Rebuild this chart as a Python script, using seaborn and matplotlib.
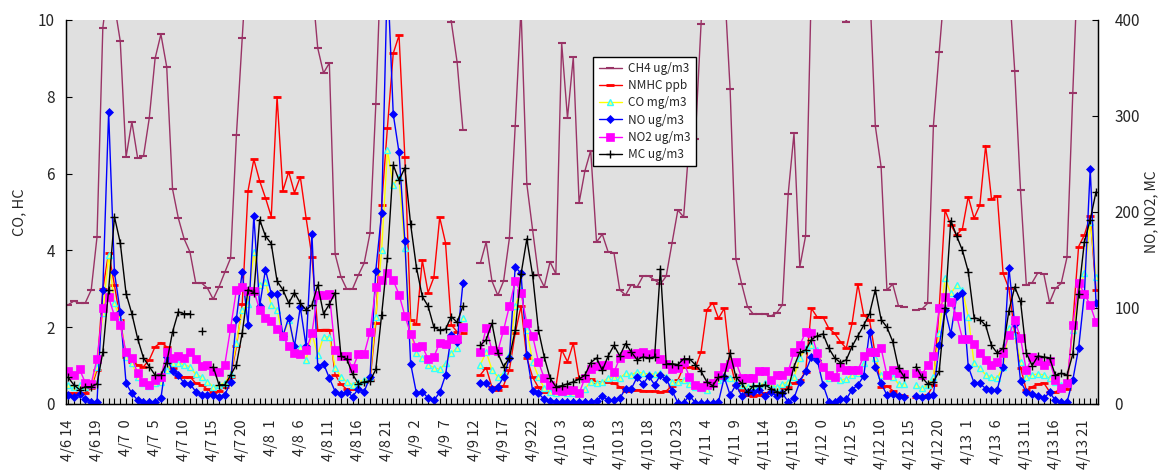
import numpy as np
import pandas as pd
import matplotlib
matplotlib.use('Agg')
import matplotlib.pyplot as plt
import seaborn as sns
from matplotlib.lines import Line2D
from matplotlib.ticker import MultipleLocator

nan = np.nan

# x 軸ラベル (5時間ごと)
tick_labels = ["4/6 14", "4/6 19", "4/7  0", "4/7  5", "4/7 10", "4/7 15", "4/7 20",
               "4/8  1", "4/8  6", "4/8 11", "4/8 16", "4/8 21", "4/9  2", "4/9  7",
               "4/9 12", "4/9 17", "4/9 22", "4/10  3", "4/10  8", "4/10 13", "4/10 18",
               "4/10 23", "4/11  4", "4/11  9", "4/11 14", "4/11 19", "4/12  0", "4/12  5",
               "4/12 10", "4/12 15", "4/12 20", "4/13  1", "4/13  6", "4/13 11", "4/13 16",
               "4/13 21"]

# 左軸 (CO, HC)
ch4 = [2.58, 2.68, 2.63, 2.64, 2.97, 4.35, 9.8, 11.0, 10.4, 9.45,
       6.43, 7.35, 6.4, 6.45, 7.45, 9.0, 9.63, 8.78, 5.6, 4.84,
       4.3, 3.96, 3.15, 3.15, 3.02, 2.73, 3.05, 3.43, 3.8, 7.0,
       9.53, 12, 13, 13, 13, 13, 13, 13, 13, 13,
       13, 13, 11, 9.27, 8.62, 8.88, 3.9, 3.31, 2.99, 3.0,
       3.36, 3.67, 4.45, 7.8, 12, 13, 13, 13, 13, 13,
       13, 13, 13, 13, 13, 11, 9.95, 8.9, 7.13, nan,
       nan, 3.67, 4.22, 3.2, 2.83, 3.2, 4.32, 7.24, 10.3, 5.73,
       4.53, 3.36, 3.05, 3.7, 3.39, 9.4, 7.45, 9.03, 5.24, 6.07,
       6.6, 4.22, 4.42, 3.96, 3.94, 2.97, 2.84, 3.1, 3.05, 3.33,
       3.33, 3.23, 3.12, 3.33, 4.19, 5.05, 4.87, 6.88, 6.9, 9.9,
       13, 13, 13, 11, 8.2, 3.77, 3.12, 2.53, 2.34, 2.34,
       2.34, 2.29, 2.37, 2.58, 5.47, 7.05, 3.57, 4.38, 11, 13,
       13, 13, 12, 11, 9.95, 11, 13, 13, 11, 7.24,
       6.17, 2.97, 3.12, 2.55, 2.53, nan, 2.45, 2.47, 2.62, 7.24,
       9.17, 11, 13, 13, 13, 13, 13, 13, 13, 13,
       13, 13, 11, 8.68, 5.57, 3.1, 3.16, 3.42, 3.39, 2.64,
       3.01, 3.14, 3.82, 8.1, 12, 13, 13, 13]

nmhc = [0.29, 0.28, 0.26, 0.29, 0.41, 0.89, 2.99, 3.94, 3.1, 2.19,
        1.23, 1.1, 1.02, 0.97, 1.15, 1.49, 1.6, 1.49, 0.93, 0.71,
        0.71, 0.71, 0.54, 0.5, 0.38, 0.32, 0.35, 0.45, 0.7, 1.5,
        2.6, 5.55, 6.37, 5.81, 5.37, 4.88, 8.0, 5.55, 6.05, 5.5,
        5.92, 4.84, 3.84, 1.93, 1.94, 1.94, 0.76, 0.52, 0.38, 0.38,
        0.54, 0.58, 0.62, 2.1, 5.18, 7.2, 9.13, 9.6, 6.42, 2.2,
        2.08, 3.75, 2.9, 3.3, 4.86, 4.2, 2.06, 1.88, 1.86, nan,
        nan, 0.76, 0.95, 0.43, 0.36, 0.48, 0.89, 1.85, 2.55, 1.2,
        0.7, 0.43, 0.3, 0.3, 0.45, 1.41, 1.1, 1.58, 0.67, 0.72,
        0.65, 0.58, 0.58, 0.58, 0.54, 0.45, 0.34, 0.36, 0.36, 0.35,
        0.34, 0.33, 0.32, 0.34, 0.47, 0.62, 0.97, 0.97, 0.93, 1.36,
        2.45, 2.64, 2.23, 2.49, 1.1, 0.49, 0.36, 0.23, 0.22, 0.23,
        0.28, 0.32, 0.38, 0.42, 0.45, 0.55, 0.62, 0.84, 2.49, 2.26,
        2.26, 1.97, 1.84, 1.62, 1.45, 2.1, 3.12, 2.32, 2.19, 1.28,
        0.45, 0.47, 0.35, 0.23, 0.22, nan, 0.19, 0.19, 0.23, 0.49,
        2.5, 5.05, 4.66, 4.4, 4.57, 5.4, 4.84, 5.18, 6.73, 5.34,
        5.42, 3.4, 3.01, 1.85, 0.95, 0.36, 0.45, 0.52, 0.55, 0.32,
        0.32, 0.38, 0.4, 2.1, 4.1, 4.4, 4.9, 2.97]

co = [0.49, 0.45, 0.49, 0.45, 0.49, 0.97, 2.36, 3.88, 2.62, 2.19,
      1.23, 1.06, 0.71, 0.54, 0.47, 0.54, 0.58, 0.89, 1.06, 1.08,
      1.02, 0.97, 0.77, 0.71, 0.58, 0.45, 0.49, 0.55, 0.78, 1.58,
      2.45, 2.6, 3.97, 3.1, 3.18, 2.58, 2.45, 1.75, 2.19, 1.49,
      1.49, 1.15, 1.84, 1.28, 1.75, 1.75, 0.95, 0.71, 0.58, 0.5,
      0.58, 0.62, 0.71, 2.27, 4.0, 6.61, 5.7, 5.92, 4.05, 1.86,
      1.32, 1.19, 1.02, 0.95, 0.9, 1.06, 1.32, 1.47, 2.23, nan,
      nan, 1.02, 1.36, 0.89, 0.71, 0.8, 1.28, 2.55, 2.97, 1.93,
      1.1, 0.71, 0.41, 0.32, 0.28, 0.32, 0.29, 0.28, 0.29, 0.4,
      0.58, 0.55, 0.58, 0.67, 0.71, 0.67, 0.8, 0.76, 0.84, 0.8,
      0.78, 0.78, 0.82, 0.71, 0.58, 0.58, 0.62, 0.52, 0.45, 0.41,
      0.36, 0.54, 0.62, 0.71, 0.67, 0.58, 0.49, 0.45, 0.47, 0.49,
      0.54, 0.52, 0.45, 0.52, 0.58, 0.71, 1.19, 1.45, 1.54, 1.41,
      0.97, 0.67, 0.71, 0.62, 0.66, 0.76, 0.8, 1.06, 1.41, 1.19,
      0.76, 0.78, 0.71, 0.52, 0.52, nan, 0.49, 0.41, 0.49, 0.71,
      1.84, 3.27, 2.88, 3.1, 2.97, 2.27, 1.06, 0.93, 0.76, 0.71,
      0.67, 0.97, 1.97, 1.8, 1.1, 0.71, 0.76, 0.78, 0.76, 0.67,
      0.58, 0.49, 0.54, 1.93, 2.88, 3.4, 4.75, 3.3]

# 右軸 (NO, NO2, MC)
no = [9.4, 7.6, 10.4, 4.9, 2.4, 2.4, 119, 304, 137, 96,
      21.5, 11, 4, 2.4, 2.4, 2.4, 6, 49, 34, 30,
      21.5, 21, 13, 9.4, 9.4, 9.4, 7.6, 9.4, 23, 89,
      138, 82, 196, 102, 140, 115, 115, 71, 90, 60,
      101, 60, 177, 39, 42, 27, 13, 10, 13, 7.6,
      16, 13, 28, 139, 199, 450, 302, 262, 170, 42,
      11, 13, 6, 4, 12, 30, 72, 65, 126, nan,
      nan, 21.5, 21.5, 15.5, 18, 28, 48, 143, 136, 51,
      14, 11, 4.9, 3.4, 2.4, 2.4, 2.4, 2.4, 2.4, 2.4,
      2.4, 3.4, 8.3, 4, 4, 6, 16, 16, 28, 21,
      29, 20, 30, 26, 14, 1.4, 1.4, 8.7, 1.4, 1.4,
      1.4, 1.4, 2.4, 28, 9.4, 20, 8.3, 13, 12, 14.6,
      8.7, 13, 8.3, 11, 2.4, 6, 23, 34, 49, 46,
      20, 2.4, 2.4, 5, 5, 15, 20, 29, 75, 39,
      21.5, 9.4, 10.4, 8.7, 7.6, nan, 8.7, 7.6, 8.7, 9.4,
      61, 98, 73, 112, 116, 39, 22, 21.5, 16, 14.6,
      15, 39, 142, 83, 24, 12, 10.4, 8.3, 6, 12,
      4, 1.8, 1.8, 25, 58, 115, 245, 105]

no2 = [34, 30, 36, 22, 21, 47, 100, 111, 92, 82,
       54, 48, 32, 23, 20, 25, 28, 54, 48, 50,
       48, 54, 47, 40, 41, 34, 33, 41, 79, 119,
       122, 118, 118, 98, 90, 86, 78, 71, 60, 53,
       52, 56, 74, 114, 114, 115, 56, 50, 50, 37,
       52, 52, 75, 122, 129, 136, 129, 114, 92, 73,
       59, 60, 47, 49, 64, 63, 68, 68, 80, nan,
       nan, 54, 79, 56, 55, 77, 102, 128, 116, 84,
       71, 44, 27, 20, 15, 14, 14.6, 15, 11, 27,
       36, 40, 41, 41, 33, 48, 52, 52, 53, 54,
       52, 53, 47, 42, 36, 37, 44, 28, 20, 18,
       20, 21.5, 30, 39, 42, 44, 27, 27, 27, 34,
       34, 25, 30, 30, 34, 54, 61, 75, 74, 53,
       39, 30, 28, 39, 35, 35, 35, 50, 54, 54,
       58, 30, 35, 32, 31, nan, 32, 30, 41, 50,
       100, 111, 106, 92, 68, 68, 63, 53, 46, 41,
       44, 53, 72, 87, 69, 35, 49, 45, 41, 45,
       25, 17, 21.5, 82, 126, 115, 103, 85]

mc = [28, 20, 15, 18, 18, 21, 54, 119, 195, 168,
      115, 94, 68, 48, 39, 30, 30, 43, 75, 96,
      94, 94, nan, 76, nan, 39, 20, 20, 30, 41,
      74, 119, 116, 192, 175, 167, 128, 119, 105, 116,
      105, 98, 103, 124, 94, 104, 116, 50, 47, 31,
      21, 23, 24, 36, 93, 152, 249, 233, 246, 187,
      142, 112, 102, 80, 77, 78, 91, 85, 102, nan,
      nan, 61, 67, 84, 53, 39, 48, 77, 135, 172,
      134, 77, 49, 27, 18, 19, 21, 23, 26, 30,
      43, 48, 35, 50, 61, 50, 63, 54, 46, 49,
      48, 49, 141, 42, 42, 41, 47, 47, 41, 34,
      23, 19, 28, 29, 53, 28, 21.5, 12, 19, 19,
      20, 16, 13, 11, 16, 39, 54, 56, 67, 71,
      73, 58, 48, 43, 46, 60, 71, 82, 94, 119,
      88, 80, 65, 37, 28, nan, 39, 28, 21, 23,
      34, 100, 191, 175, 160, 138, 90, 88, 82, 61,
      53, 58, 97, 122, 107, 53, 40, 50, 49, 48,
      30, 32, 30, 52, 115, 169, 192, 221]


def to_long(vals):
    # 欠測(NaN)で線を切るため、区間ごとに番号を振る
    arr = np.asarray(vals, dtype=float)
    idx = np.arange(len(arr))
    ok = ~np.isnan(arr)
    seg = np.cumsum(~ok)
    return pd.DataFrame({'x': idx[ok], 'y': arr[ok], 'seg': seg[ok]})


sns.set_theme(style='white')
plt.rcParams['font.family'] = ['Noto Sans CJK JP', 'DejaVu Sans']

fig = plt.figure(figsize=(11.59, 4.71), dpi=100)
ax = fig.add_axes([66 / 1159, 1 - 404 / 471, 1032 / 1159, 384 / 471])
ax.set_facecolor('#E0E0E0')
ax2 = ax.twinx()

left_series = [
    ('CH4 ug/m3', ch4, dict(color='#993366', marker='_', markersize=6,
                            markeredgecolor='#993366', markeredgewidth=1.5)),
    ('NMHC ppb', nmhc, dict(color='#FF0000', marker='_', markersize=6,
                            markeredgecolor='#FF0000', markeredgewidth=2)),
    ('CO mg/m3', co, dict(color='#FFFF00', marker='^', markersize=5,
                          markerfacecolor='#FFFF66', markeredgecolor='#33FFFF',
                          markeredgewidth=1)),
]
right_series = [
    ('NO ug/m3', no, dict(color='#0000FF', marker='D', markersize=4.5,
                          markerfacecolor='#0000FF', markeredgecolor='#0000FF',
                          markeredgewidth=0.5)),
    ('NO2 ug/m3', no2, dict(color='#FF00FF', marker='s', markersize=5.5,
                            markerfacecolor='#FF00FF', markeredgecolor='#FF00FF',
                            markeredgewidth=0.5)),
    ('MC ug/m3', mc, dict(color='#000000', marker='+', markersize=6,
                          markeredgecolor='#000000', markeredgewidth=1)),
]

handles = []
for axis, group in [(ax, left_series), (ax2, right_series)]:
    for name, vals, st in group:
        sns.lineplot(data=to_long(vals), x='x', y='y', units='seg', estimator=None,
                     ax=axis, linewidth=1, legend=False, **st)
        handles.append(Line2D([], [], linewidth=1, label=name, **st))

ax.set_xlim(-0.34, 177.34)
ax.set_ylim(0, 10)
ax2.set_ylim(0, 400)

ax.set_xticks(np.arange(0, 178, 5))
ax.set_xticklabels(tick_labels, rotation=90, fontsize=10.5)
ax.xaxis.set_minor_locator(MultipleLocator(1))
ax.set_yticks([0, 2, 4, 6, 8, 10])
ax2.set_yticks([0, 100, 200, 300, 400])

ax.tick_params(axis='x', which='both', direction='in', length=4, width=0.8,
               color='black', bottom=True, pad=11)
ax.tick_params(axis='y', direction='in', length=4, width=0.8, color='black',
               left=True, labelsize=11, pad=8)
ax2.tick_params(axis='y', direction='in', length=4, width=0.8, color='black',
                right=True, labelsize=11, pad=12)

ax.set_xlabel('')
ax.set_ylabel('CO, HC', fontsize=10.5, labelpad=8)
ax2.set_xlabel('')
ax2.set_ylabel('NO, NO2, MC', fontsize=10, labelpad=3)

for a in (ax, ax2):
    a.spines['top'].set_visible(False)
    for s in ('left', 'right', 'bottom'):
        a.spines[s].set_color('black')
        a.spines[s].set_linewidth(0.9)

leg = ax2.legend(handles=handles, loc='upper left', bbox_to_anchor=(0.511, 0.904),
                 borderaxespad=0, fontsize=8.5, frameon=True, fancybox=False,
                 framealpha=1, edgecolor='black', handlelength=2.0,
                 labelspacing=0.35, borderpad=0.45, handletextpad=0.5)
leg.get_frame().set_linewidth(1)

fig.savefig('out.png', dpi=100)
